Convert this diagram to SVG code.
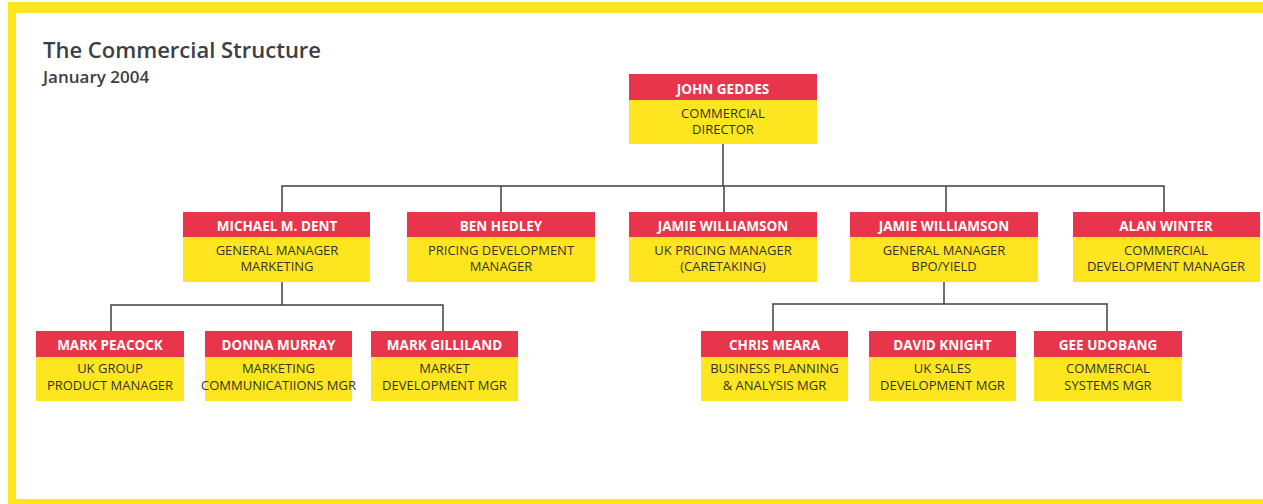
<svg xmlns="http://www.w3.org/2000/svg" width="1263" height="504" viewBox="0 0 1263 504">
<style>
.red{fill:#e8354b}
.yel{fill:#fde61f}
.name{font-family:"Open Sans","Noto Sans",sans-serif;font-weight:700;font-size:13.5px;fill:#ffffff;text-anchor:middle}
.role{font-family:"Open Sans","Noto Sans",sans-serif;font-weight:400;font-size:13px;fill:#333333;text-anchor:middle}
.conn{fill:none;stroke:#404040;stroke-width:1.5}
.title{font-family:"Open Sans","Noto Sans",sans-serif;font-weight:600;fill:#3b3e46}
</style>
<rect x="0" y="0" width="1263" height="504" fill="#ffffff"/>
<g id="frame" fill="#fde61f">
<rect x="8" y="2" width="1255" height="11"/>
<rect x="8" y="2" width="8" height="502"/>
<rect x="8" y="499" width="1255" height="5"/>
</g>
<g id="heading">
<text class="title" x="43" y="58" font-size="22">The Commercial Structure</text>
<text class="title" x="43" y="83" font-size="17">January 2004</text>
</g>
<g id="connectors">
<path class="conn" d="M723 144V186M282 212V186H1164V212M501 186V212M724 186V212M946 186V212"/>
<path class="conn" d="M282 282V305M111 331V305H443V331"/>
<path class="conn" d="M944 282V304M773 331V304H1107V331"/>
</g>
<g id="john-geddes">
<rect class="red" x="629" y="74" width="188" height="26"/>
<rect class="yel" x="629" y="100" width="188" height="44"/>
<text class="name" x="723" y="94">JOHN GEDDES</text>
<text class="role" x="723" y="118">COMMERCIAL</text>
<text class="role" x="723" y="134">DIRECTOR</text>
</g>
<g id="michael-dent">
<rect class="red" x="183" y="212" width="187" height="25"/>
<rect class="yel" x="183" y="237" width="187" height="45"/>
<text class="name" x="277" y="231">MICHAEL M. DENT</text>
<text class="role" x="277" y="255">GENERAL MANAGER</text>
<text class="role" x="277" y="271">MARKETING</text>
</g>
<g id="ben-hedley">
<rect class="red" x="407" y="212" width="188" height="25"/>
<rect class="yel" x="407" y="237" width="188" height="45"/>
<text class="name" x="501" y="231">BEN HEDLEY</text>
<text class="role" x="501" y="255">PRICING DEVELOPMENT</text>
<text class="role" x="501" y="271">MANAGER</text>
</g>
<g id="jamie-williamson-pricing">
<rect class="red" x="629" y="212" width="188" height="25"/>
<rect class="yel" x="629" y="237" width="188" height="45"/>
<text class="name" x="723" y="231">JAMIE WILLIAMSON</text>
<text class="role" x="723" y="255">UK PRICING MANAGER</text>
<text class="role" x="723" y="271">(CARETAKING)</text>
</g>
<g id="jamie-williamson-gm">
<rect class="red" x="850" y="212" width="188" height="25"/>
<rect class="yel" x="850" y="237" width="188" height="45"/>
<text class="name" x="944" y="231">JAMIE WILLIAMSON</text>
<text class="role" x="944" y="255">GENERAL MANAGER</text>
<text class="role" x="944" y="271">BPO/YIELD</text>
</g>
<g id="alan-winter">
<rect class="red" x="1073" y="212" width="187" height="25"/>
<rect class="yel" x="1073" y="237" width="187" height="45"/>
<text class="name" x="1166" y="231">ALAN WINTER</text>
<text class="role" x="1166" y="255">COMMERCIAL</text>
<text class="role" x="1166" y="271">DEVELOPMENT MANAGER</text>
</g>
<g id="mark-peacock">
<rect class="red" x="36" y="331" width="148" height="26"/>
<rect class="yel" x="36" y="357" width="148" height="44"/>
<text class="name" x="110" y="350">MARK PEACOCK</text>
<text class="role" x="110" y="373">UK GROUP</text>
<text class="role" x="110" y="390">PRODUCT MANAGER</text>
</g>
<g id="donna-murray">
<rect class="red" x="205" y="331" width="147" height="26"/>
<rect class="yel" x="205" y="357" width="147" height="44"/>
<text class="name" x="278.5" y="350">DONNA MURRAY</text>
<text class="role" x="278.5" y="373">MARKETING</text>
<text class="role" x="278.5" y="390" font-size="12.3">COMMUNICATIIONS MGR</text>
</g>
<g id="mark-gilliland">
<rect class="red" x="371" y="331" width="147" height="26"/>
<rect class="yel" x="371" y="357" width="147" height="44"/>
<text class="name" x="444.5" y="350">MARK GILLILAND</text>
<text class="role" x="444.5" y="373">MARKET</text>
<text class="role" x="444.5" y="390">DEVELOPMENT MGR</text>
</g>
<g id="chris-meara">
<rect class="red" x="701" y="331" width="147" height="26"/>
<rect class="yel" x="701" y="357" width="147" height="44"/>
<text class="name" x="774.5" y="350">CHRIS MEARA</text>
<text class="role" x="774.5" y="373">BUSINESS PLANNING</text>
<text class="role" x="774.5" y="390">&amp; ANALYSIS MGR</text>
</g>
<g id="david-knight">
<rect class="red" x="869" y="331" width="147" height="26"/>
<rect class="yel" x="869" y="357" width="147" height="44"/>
<text class="name" x="942.5" y="350">DAVID KNIGHT</text>
<text class="role" x="942.5" y="373">UK SALES</text>
<text class="role" x="942.5" y="390">DEVELOPMENT MGR</text>
</g>
<g id="gee-udobang">
<rect class="red" x="1034" y="331" width="148" height="26"/>
<rect class="yel" x="1034" y="357" width="148" height="44"/>
<text class="name" x="1108" y="350">GEE UDOBANG</text>
<text class="role" x="1108" y="373">COMMERCIAL</text>
<text class="role" x="1108" y="390">SYSTEMS MGR</text>
</g>
</svg>
